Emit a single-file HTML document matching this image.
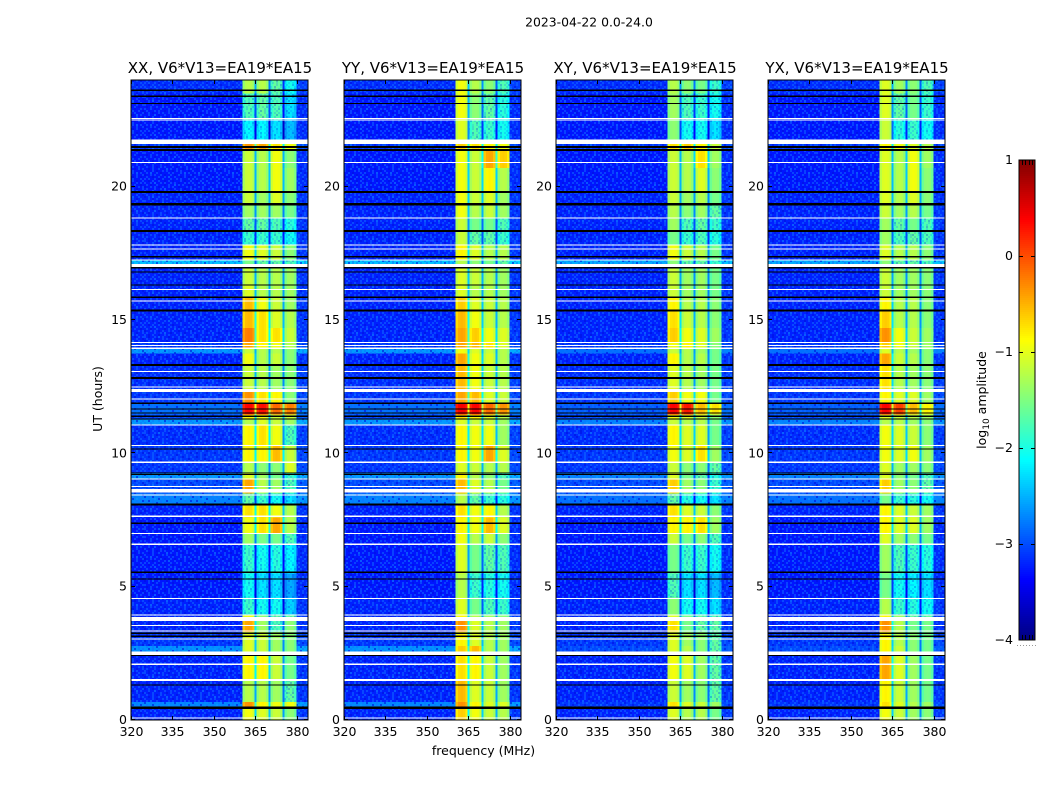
<!DOCTYPE html>
<html>
<head>
<meta charset="utf-8">
<title>2023-04-22 spectrogram</title>
<style>
html,body{margin:0;padding:0;background:#fff;}
svg{display:block;}
text{font-family:"DejaVu Sans","Liberation Sans",sans-serif;fill:#000;}
</style>
</head>
<body>
<svg id="chart" xmlns="http://www.w3.org/2000/svg" width="1050" height="800" viewBox="0 0 1050 800">
  <rect width="1050" height="800" fill="#fff"/>
  <text x="589" y="26.5" text-anchor="middle" font-size="12.4">2023-04-22 0.0-24.0</text>
  <text x="483.5" y="755" text-anchor="middle" font-size="12.5">frequency (MHz)</text>
  <text x="102" y="399" text-anchor="middle" font-size="12.5" transform="rotate(-90 102 399)">UT (hours)</text>
  <text x="986" y="400" text-anchor="middle" font-size="12.5" transform="rotate(-90 986 400)">log<tspan font-size="9" dy="3">10</tspan><tspan dy="-3"> amplitude</tspan></text>
  <defs id="defs"></defs>
  <g id="panels"></g>
  <g id="colorbar"></g>
</svg>
<script>
const polarizationTitles = ['XX, V6*V13=EA19*EA15','YY, V6*V13=EA19*EA15','XY, V6*V13=EA19*EA15','YX, V6*V13=EA19*EA15'];
const freqTicks = [320,335,350,365,380];
const hourTicks = [0,5,10,15,20];
const colorbarTicks = [1,0,-1,-2,-3,-4];
const colorbarMinorTicks = [0.2,0.4,0.6,0.8];

const bandStartsMHz = [360.4,365.5,370.5,375.6];
const bandEndsMHz = [364.8,369.8,374.9,379.9];
const bandProfile = [-0.2,-0.05,-0.02,-0.05,-0.2];

const timeEdgesHours = [0,.5,.68,1.5,2.42,2.77,3.3,3.75,3.95,4.6,5.5,6.6,7,7.6,8.08,8.5,9.04,9.25,9.7,10.3,11.06,11.3,11.45,11.85,12.3,13.3,13.75,13.95,14.15,14.7,15.35,15.85,16.3,17,17.25,17.8,18.3,18.8,19.3,19.8,20.7,21.4,21.7,22.5,23.5,24];

const backgroundParallel = [-3.22,-2.7,-3.22,-3.22,-2.65,-3.12,-3.22,-3.22,-3.22,-3.27,-3.27,-3.27,-3.27,-3.22,-2.72,-3.02,-2.62,-3.12,-3.12,-3.17,-2.62,-3.02,-2.82,-3.12,-3.17,-3.22,-2.62,-3.12,-3.22,-3.22,-3.22,-3.22,-3.22,-2.42,-3.22,-3.22,-3.22,-3.22,-3.22,-3.27,-3.27,-3.12,-3.27,-3.27,-3.17];
const backgroundCross = [-3.22,-3.12,-3.22,-3.22,-3.02,-3.12,-3.22,-3.22,-3.22,-3.27,-3.27,-3.27,-3.27,-3.22,-2.82,-3.02,-2.72,-3.12,-3.12,-3.17,-2.72,-3.02,-2.92,-3.12,-3.17,-3.22,-2.82,-3.12,-3.22,-3.22,-3.22,-3.22,-3.22,-2.52,-3.22,-3.22,-3.22,-3.22,-3.22,-3.27,-3.27,-3.12,-3.27,-3.27,-3.17];

const xxBand1 = [-.9,-.3,-1.2,-.8,-1,-1,-.4,-.9,-1.8,-2,-1.8,-1.3,-.9,-.7,-1.6,-.4,-1,-1.2,-.8,-.8,-1.2,-.8,.4,-.3,-1.1,-.9,-1.1,-.4,-.2,-.5,-.5,-1,-1.1,-1.5,-.9,-1.8,-1.6,-1.3,-1.1,-1.1,-1.1,-.3,-2.1,-1.7,-1.2];
const xxBand2 = [-1,-.8,-1.2,-.8,-1.1,-1.1,-1.3,-1.4,-2,-2.2,-2,-1.5,-.7,-.7,-1.8,-1.2,-1.3,-1.4,-.8,-.7,-1,-.9,.35,-.7,-1.2,-1.2,-1.2,-.8,-.7,-.7,-.9,-1.2,-1.2,-1.6,-1,-1.8,-1.6,-1.3,-1.3,-1.2,-1.2,-.4,-2.1,-1.6,-1.2];
const xxBand3 = [-1.1,-.9,-1.3,-1.1,-1.3,-1.3,-1.7,-1.6,-2,-2.2,-1.9,-1.5,-.4,-.9,-2,-1.3,-1.5,-1.4,-.5,-.9,-1.1,-1.1,-.1,-.8,-1.3,-1.1,-1.2,-.9,-.7,-1,-1.1,-1.2,-1.2,-1.6,-1.1,-1.8,-1.7,-1.3,-1,-.9,-.9,-.7,-2.2,-1.7,-1.6];
const xxBand4 = [-1.4,-.9,-1.6,-1.5,-1.4,-1.4,-1.4,-1.6,-2.3,-2.5,-2.1,-1.7,-1.2,-1.2,-2.2,-1.7,-1.8,-1,-1.1,-1.7,-1.3,-1.1,-.2,-1.4,-1.4,-1.4,-1.4,-1.2,-1.1,-1.2,-1.3,-1.3,-1.3,-1.7,-1.4,-2,-1.9,-1.5,-1.4,-1.3,-1.4,-.9,-2.4,-2.2,-2];

const yyBand1 = [-.6,-.3,-.5,-.7,-.6,-.8,-.3,-.8,-1,-1.2,-1,-.9,-.8,-.7,-1.2,-.5,-.8,-1,-.8,-.8,-1,-.7,.45,-.4,-.5,-.4,-.9,-.4,-.4,-.5,-.6,-1,-1,-1.2,-.8,-1.1,-1.1,-.9,-.9,-.9,-.9,-.6,-1,-.9,-.9];
const yyBand2 = [-.9,-.8,-1,-.8,-.5,-1,-1,-1.2,-1.5,-1.8,-1.5,-1.2,-.9,-.9,-1.6,-1,-1.2,-1.1,-.9,-.9,-1.1,-.8,.4,-.5,-.9,-.9,-1,-.5,-.6,-.9,-1,-1.2,-1.1,-1.4,-1,-1.6,-1.5,-1.2,-1.1,-1.1,-1.1,-.7,-1.7,-1.4,-1.2];
const yyBand3 = [-1.1,-1,-1.1,-1.1,-1.2,-1.2,-1.2,-1.3,-1.7,-1.9,-1.6,-1.1,-.5,-.8,-1.8,-1.2,-1.4,-1.2,-.4,-.9,-1.1,-1,-.1,-1,-1.1,-1,-1.1,-.7,-.9,-1.1,-1.1,-1.2,-1.2,-1.5,-1.2,-1.6,-1.5,-1.1,-1,-.8,-.4,-.8,-1.8,-1.6,-1.4];
const yyBand4 = [-1.2,-1,-1.3,-1.3,-1.3,-1.3,-1.3,-1.4,-1.8,-2,-1.7,-1.4,-1,-1.2,-1.9,-1.5,-1.7,-1.2,-1,-1.3,-1.3,-1.2,-.3,-1.1,-1.2,-1.2,-1.2,-1,-1,-1.2,-1.2,-1.3,-1.3,-1.6,-1.2,-1.8,-1.7,-1.3,-1.3,-1.2,-.6,-.9,-2,-1.9,-1.7];

const xyBand1 = [-1,-.7,-1.1,-.9,-1,-1,-.7,-1,-1.4,-1.7,-1.5,-1.1,-.8,-.7,-1.6,-.6,-1,-1.1,-.9,-.8,-1.1,-.9,.4,-.6,-1,-.8,-1.1,-.9,-.6,-.7,-.8,-1.1,-1.1,-1.4,-.9,-1.5,-1.3,-1.2,-1.1,-1.1,-1.1,-.7,-1.4,-1.3,-1.2];
const xyBand2 = [-1.2,-1,-1.3,-1,-1.2,-1.3,-1.5,-1.5,-2,-2.2,-1.8,-1.5,-.8,-1,-1.9,-1.3,-1.5,-1.4,-1,-1,-1.2,-1,.3,-.9,-1.2,-1.2,-1.2,-.8,-.9,-1.1,-1.2,-1.3,-1.3,-1.6,-1.1,-1.8,-1.7,-1.4,-1.3,-1.2,-1.2,-.6,-2,-1.7,-1.4];
const xyBand3 = [-1.2,-1.1,-1.4,-1.3,-1.4,-1.4,-1.6,-1.6,-2,-2.2,-1.8,-1.4,-.7,-1.1,-2,-1.4,-1.6,-1.4,-.7,-1,-1.2,-1.1,-.5,-.9,-1.3,-1.2,-1.3,-1,-1,-1.2,-1.2,-1.3,-1.3,-1.6,-1.2,-1.7,-1.6,-1.3,-1.2,-1,-.7,-.8,-2,-1.8,-1.5];
const xyBand4 = [-1.5,-1.3,-1.6,-1.6,-1.6,-1.6,-1.6,-1.7,-2.2,-2.4,-2,-1.7,-1.3,-1.4,-2.2,-1.8,-1.9,-1.6,-1.3,-1.5,-1.5,-1.4,-.7,-1.5,-1.5,-1.5,-1.5,-1.4,-1.3,-1.4,-1.4,-1.5,-1.5,-1.8,-1.5,-1.9,-1.8,-1.6,-1.5,-1.4,-1.3,-1.1,-2.2,-2,-1.8];

const yxBand1 = [-.9,-.7,-.8,-.4,-.8,-.8,-.3,-.8,-1.2,-1.5,-1.3,-1,-.8,-.8,-1.5,-.6,-1,-1,-.9,-.9,-1.2,-1,.4,-.8,-.7,-.4,-1,-.6,-.3,-.6,-.8,-1.1,-1.1,-1.4,-1,-1.3,-1.3,-1.1,-1,-1,-1,-.8,-1.1,-1,-1];
const yxBand2 = [-1.1,-1,-1.1,-1,-1.1,-1.2,-1.2,-1.3,-1.8,-2,-1.7,-1.3,-1,-1,-1.8,-1.3,-1.4,-1.3,-1,-1,-1.2,-1.1,.1,-1,-1.2,-1.1,-1.2,-.9,-.9,-1.2,-1.2,-1.3,-1.3,-1.6,-1.2,-1.7,-1.6,-1.3,-1.2,-1.2,-1.2,-.9,-1.9,-1.6,-1.3];
const yxBand3 = [-1.3,-1.2,-1.3,-1.3,-1.4,-1.4,-1.5,-1.6,-1.9,-2.1,-1.8,-1.4,-1,-1.1,-1.9,-1.4,-1.5,-1.3,-.9,-1.1,-1.3,-1.2,-.5,-1,-1.3,-1.2,-1.3,-1.1,-1.1,-1.2,-1.2,-1.3,-1.3,-1.6,-1.2,-1.6,-1.5,-1.2,-1,-.9,-.9,-1,-1.8,-1.5,-1.4];
const yxBand4 = [-1.4,-1.3,-1.5,-1.5,-1.5,-1.5,-1.5,-1.6,-2,-2.2,-1.9,-1.5,-1.3,-1.3,-2,-1.6,-1.7,-1.4,-1.3,-1.4,-1.4,-1.3,-.8,-1.3,-1.4,-1.4,-1.4,-1.3,-1.3,-1.4,-1.4,-1.4,-1.4,-1.7,-1.4,-1.7,-1.7,-1.5,-1.4,-1.4,-1.3,-1.2,-2,-1.8,-1.7];

const whiteFlagStarts = [.06,1.47,2.07,2.44,3.02,3.32,3.53,3.72,3.92,4.54,6.57,6.98,7.62,8.42,8.54,8.73,9.02,9.63,10.27,11.04,12.02,12.3,12.47,13.05,13.92,14.03,14.13,15.69,16.13,16.99,17.23,17.64,17.79,18.8,20.89,21.6,22.48,22.54];
const whiteFlagEnds = [.1,1.53,2.11,2.56,3.06,3.36,3.57,3.87,3.96,4.58,6.61,7.02,7.66,8.46,8.66,8.77,9.06,9.69,10.31,11.08,12.06,12.41,12.51,13.09,13.96,14.07,14.17,15.73,16.17,17.1,17.27,17.68,17.83,18.84,20.93,21.77,22.52,22.58];
const blackFlagCenters = [.46,1.31,2.42,3.14,3.25,5.29,5.54,7.38,8.08,9.21,9.27,10.16,11.29,11.39,11.52,11.66,11.88,12.83,13.31,15.35,15.85,16.31,16.8,16.96,17.37,18.34,19.34,19.8,21.37,21.49,23.12,23.39,23.62];
const blackFlagWidths = [.1,.05,.05,.05,.05,.04,.05,.05,.06,.04,.04,.04,.04,.04,.04,.04,.06,.07,.08,.08,.06,.05,.05,.04,.05,.08,.08,.08,.08,.08,.05,.05,.05];

const speckleTile = [
 "a.b..a.c.a..b.a..a.b.a.a",
 ".a..a.b..a.a...b.a..a..b",
 "b.a.c..a...b.a..a.c..a..",
 "..a.b.a..a.a..b...a.b.a.",
 "a...a..b.a...a.a.b..a..a",
 ".b.a..a..c.a.b..a..a.b..",
 "a..a.b..a...a..c.a.b..a.",
 ".a...a.a..b.a.a...a..a.b",
 "b.a.b..a.a..a..b.a.a...a",
 "..a..c.b..a..a.a..b.c.a.",
 "a.b.a...a..b.a...a..a..b",
 ".a..a.b.a.a...a.b.a..a..",
 "..b.a..a...c.a..a..b.a.a",
 "a...a.b..a.a..b.a.a...b.",
 ".a.c..a.b...a.a...a.c.a.",
 "b..a.a..a.b..a.b.a..a..a",
 ".a..b..a..a.c..a..b.a.b.",
 "a.a..a.b.a...a..a.a...a.",
 "..b.a..a..b.a.b...a.b..a",
 "a..a.c..a.a..a.a.b..a.a.",
 ".a.b..a...b.a..c.a.a..b.",
 "b..a.a.b.a..a.a..b...a.a",
 ".a...a..a.c..b.a..a.b..a",
 "a.b.a..b..a.a...a.c.a..."
];
const speckleColors = {a:'#1070ff', b:'#0010e0', c:'#1098ff'};
const speckleBandLimit = -1.5;

const panelLefts = [131,344,556,768];
const panelWidth = 177;
const panelTop = 80;
const panelBottom = 720;
const freqMin = 320;
const freqMax = 384.1;
const hourMax = 24;
const colorMin = -4;
const colorMax = 1;
const gapDrop = 1.35;

const panelBands = [
  [xxBand1,xxBand2,xxBand3,xxBand4],
  [yyBand1,yyBand2,yyBand3,yyBand4],
  [xyBand1,xyBand2,xyBand3,xyBand4],
  [yxBand1,yxBand2,yxBand3,yxBand4]
];
const panelBackgrounds = [backgroundParallel,backgroundParallel,backgroundCross,backgroundCross];

const NS = 'http://www.w3.org/2000/svg';
function mk(tag){ return document.createElementNS(NS,tag); }
function xScale(left,f){ return left + (f-freqMin)/(freqMax-freqMin)*panelWidth; }
function yScale(h){ return panelBottom - h/hourMax*(panelBottom-panelTop); }
function jetPart(t,c){ return Math.max(0,Math.min(1,1.5-Math.abs(4*t-c))); }
function jet(v){
  const t = Math.max(0,Math.min(1,(v-colorMin)/(colorMax-colorMin)));
  const r = Math.round(255*jetPart(t,3));
  const g = Math.round(255*jetPart(t,2));
  const b = Math.round(255*jetPart(t,1));
  return 'rgb('+r+','+g+','+b+')';
}
function box(parent,x,y,w,h,fill){
  const r = mk('rect');
  r.setAttribute('x',x.toFixed(2));
  r.setAttribute('y',y.toFixed(2));
  r.setAttribute('width',w.toFixed(2));
  r.setAttribute('height',h.toFixed(2));
  r.setAttribute('fill',fill);
  parent.appendChild(r);
  return r;
}
function line(parent,x1,y1,x2,y2){
  const l = mk('line');
  l.setAttribute('x1',x1); l.setAttribute('y1',y1);
  l.setAttribute('x2',x2); l.setAttribute('y2',y2);
  l.setAttribute('stroke','#000');
  l.setAttribute('stroke-width','1');
  parent.appendChild(l);
  return l;
}
function label(parent,x,y,str,anchor,size){
  const t = mk('text');
  t.setAttribute('x',x); t.setAttribute('y',y);
  t.setAttribute('text-anchor',anchor);
  t.setAttribute('font-size',size);
  t.textContent = str;
  parent.appendChild(t);
  return t;
}

/* speckle texture */
const defs = document.getElementById('defs');
const pattern = mk('pattern');
pattern.setAttribute('id','speckle');
pattern.setAttribute('patternUnits','userSpaceOnUse');
pattern.setAttribute('width',48);
pattern.setAttribute('height',48);
speckleTile.forEach((rowStr,r)=>{
  for(let c=0;c<24;c++){
    const ch = rowStr[c];
    if(speckleColors[ch]){
      const px = box(pattern,c*2,r*2,2,2,speckleColors[ch]);
      px.setAttribute('opacity',ch==='b'?'0.6':'0.5');
    }
  }
});
defs.appendChild(pattern);

const panelsGroup = document.getElementById('panels');
polarizationTitles.forEach((title,p)=>{
  const left = panelLefts[p];
  const g = mk('g');
  
  
  panelsGroup.appendChild(g);

  const clipId = 'clip'+p;
  const clip = mk('clipPath');
  clip.setAttribute('id',clipId);
  box(clip,left,panelTop,panelWidth,panelBottom-panelTop,'#000');
  defs.appendChild(clip);

  const cells = mk('g');
  
  
  cells.setAttribute('clip-path','url(#'+clipId+')');
  cells.setAttribute('shape-rendering','crispEdges');
  g.appendChild(cells);

  const bands = panelBands[p];
  const bg = panelBackgrounds[p];

  for(let i=0;i<timeEdgesHours.length-1;i++){
    const yTop = yScale(timeEdgesHours[i+1]);
    const yBot = yScale(timeEdgesHours[i]);
    const h = yBot-yTop;
    const leftBg = box(cells,xScale(left,freqMin),yTop,xScale(left,bandStartsMHz[0])-xScale(left,freqMin),h,jet(bg[i]));
    
    
    const rightBg = box(cells,xScale(left,bandEndsMHz[3]),yTop,xScale(left,freqMax)-xScale(left,bandEndsMHz[3]),h,jet(bg[i]+0.1));
    
    
    for(let b=0;b<4;b++){
      const val = bands[b][i];
      const f0 = bandStartsMHz[b], f1 = bandEndsMHz[b];
      const step = (f1-f0)/bandProfile.length;
      bandProfile.forEach((off,k)=>{
        const xa = xScale(left,f0+k*step);
        const xb = xScale(left,f0+(k+1)*step);
        const cell = box(cells,xa,yTop,xb-xa+0.3,h,jet(val+off));
        
        
      });
      if(val<speckleBandLimit){
        const xa = xScale(left,f0);
        const sp = box(cells,xa,yTop,xScale(left,f1)-xa,h,'url(#speckle)');
        sp.setAttribute('opacity','0.45');
        
        
      }
      if(b<3){
        const xa = xScale(left,f1);
        const xb = xScale(left,bandStartsMHz[b+1]);
        const gapVal = (val+bands[b+1][i])/2-gapDrop;
        const gap = box(cells,xa,yTop,xb-xa,h,jet(gapVal));
        
        
      }
    }
  }

  const speckleLeft = box(cells,xScale(left,freqMin),panelTop,xScale(left,bandStartsMHz[0])-xScale(left,freqMin),panelBottom-panelTop,'url(#speckle)');
  
  
  const speckleRight = box(cells,xScale(left,bandEndsMHz[3]),panelTop,xScale(left,freqMax)-xScale(left,bandEndsMHz[3]),panelBottom-panelTop,'url(#speckle)');
  
  

  whiteFlagStarts.forEach((s,i)=>{
    const yT = yScale(whiteFlagEnds[i]);
    const fl = box(cells,left,yT,panelWidth,yScale(s)-yT,'#fff');
    
    
  });
  blackFlagCenters.forEach((c,i)=>{
    const yT = yScale(c+blackFlagWidths[i]/2);
    const fl = box(cells,left,yT,panelWidth,Math.max(1,yScale(c-blackFlagWidths[i]/2)-yT),'#000');
    
    
  });

  const frame = mk('rect');
  
  
  frame.setAttribute('x',left);
  frame.setAttribute('y',panelTop);
  frame.setAttribute('width',panelWidth);
  frame.setAttribute('height',panelBottom-panelTop);
  frame.setAttribute('fill','none');
  frame.setAttribute('stroke','#000');
  frame.setAttribute('stroke-width','1');
  g.appendChild(frame);

  const ttl = label(g,left+89,73,title,'middle','15');
  
  

  freqTicks.forEach(f=>{
    const x = Math.round(xScale(left,f))+0.5;
    const t1 = line(g,x,panelBottom,x,panelBottom-4);
    
    
    const t2 = line(g,x,panelTop,x,panelTop+4);
    
    
    const tl = label(g,x,736,String(f),'middle','12.5');
    
    
  });
  hourTicks.forEach(hr=>{
    const y = Math.round(yScale(hr))-0.5;
    const t1 = line(g,left,y,left+4,y);
    
    
    const t2 = line(g,left+panelWidth,y,left+panelWidth-4,y);
    
    
    const tl = label(g,left-4,yScale(hr)+4,String(hr),'end','12.5');
    
    
  });
});

/* colorbar */
const cb = document.getElementById('colorbar');
const cbLeft = 1019, cbRight = 1035, cbTop = 160, cbBottom = 640;
function cbY(v){ return cbBottom-(v-colorMin)/(colorMax-colorMin)*(cbBottom-cbTop); }
const cbCells = mk('g');
cbCells.setAttribute('shape-rendering','crispEdges');
cb.appendChild(cbCells);
for(let py=cbTop;py<cbBottom;py+=2){
  const v = colorMax-(py+1-cbTop)/(cbBottom-cbTop)*(colorMax-colorMin);
  const s = box(cbCells,cbLeft,py,cbRight-cbLeft,2.2,jet(v));
  
  
}
const cbFrame = mk('rect');


cbFrame.setAttribute('x',cbLeft);
cbFrame.setAttribute('y',cbTop);
cbFrame.setAttribute('width',cbRight-cbLeft);
cbFrame.setAttribute('height',cbBottom-cbTop);
cbFrame.setAttribute('fill','none');
cbFrame.setAttribute('stroke','#000');
cb.appendChild(cbFrame);
colorbarTicks.forEach(v=>{
  const y = Math.round(cbY(v))+0.5;
  if(v<colorMax && v>colorMin){
    const a = line(cb,cbLeft,y,cbLeft+4,y);
    
    
    const b = line(cb,cbRight,y,cbRight-4,y);
    
    
  }
  const t = label(cb,1013,cbY(v)+4,v<0?'\u2212'+Math.abs(v):String(v),'end','12.5');
  
  
});
colorbarMinorTicks.forEach(fr=>{
  const x = Math.round(cbLeft+fr*(cbRight-cbLeft))+0.5;
  const a = line(cb,x,cbTop,x,cbTop+5);
  
  
  const b = line(cb,x,cbBottom,x,cbBottom-5);
  
  
});
for(let x=1017;x<1036;x+=3){
  const d = box(cb,x,645,1,1,'#999');
  
  
}
</script>
</body>
</html>
